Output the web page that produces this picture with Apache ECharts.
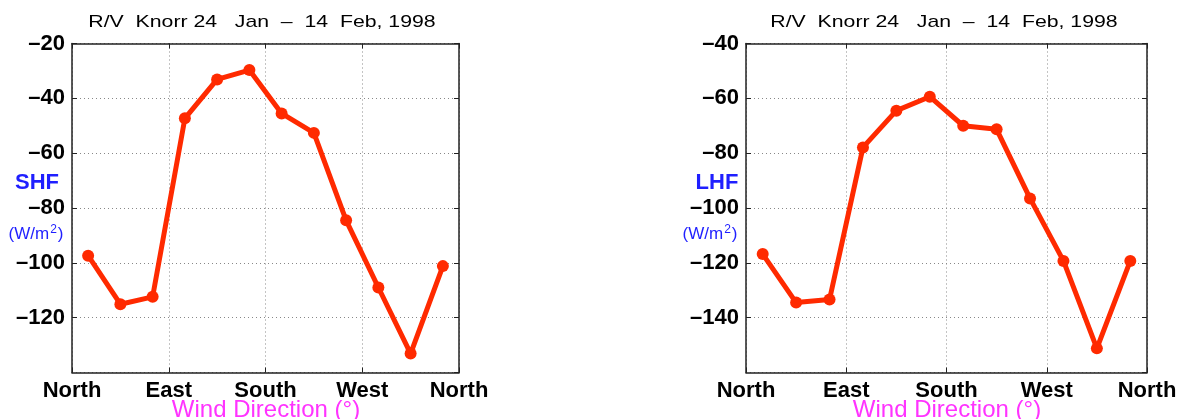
<!DOCTYPE html>
<html>
<head>
<meta charset="utf-8">
<script src="https://cdn.jsdelivr.net/npm/echarts@6/dist/echarts.min.js"></script>
<style>html,body{margin:0;padding:0;background:#fff}#c{width:1181px;height:419px}</style>
</head>
<body>
<div id="c"></div>
<script>
// Wind direction bin centres (degrees)
const directions = [15, 45, 75, 105, 135, 165, 195, 225, 255, 285, 315, 345];
// Sensible heat flux (W/m2)
const shf = [-97.4, -115.1, -112.4, -47.3, -33.1, -29.7, -45.5, -52.6, -84.5, -109, -133.1, -101.2];
// Latent heat flux (W/m2)
const lhf = [-116.8, -134.5, -133.4, -77.9, -64.5, -59.4, -70, -71.3, -96.5, -119.3, -151.2, -119.3];
// x tick labels at 0, 90, 180, 270, 360
const dirLabels = ['North', 'East', 'South', 'West', 'North'];
const titleText = 'R/V  Knorr 24   Jan  –  14  Feb, 1998';
const xTitle = 'Wind Direction (°)';

const red = '#ff2a00';
const blue = '#1f1fff';
const magenta = '#ff33ff';
const FONT = '"Liberation Sans", Arial, sans-serif';

const chart = echarts.init(document.getElementById('c'), null, {renderer: 'canvas'});

function pairs(vals) { return directions.map((d, i) => [d, vals[i]]); }

const panels = [
  {left: 72, width: 387, ymin: -140, ymax: -20, name: 'SHF', vals: shf, nameX: 37, unitX: 36, titleX: 262, xtX: 266},
  {left: 746, width: 401, ymin: -160, ymax: -40, name: 'LHF', vals: lhf, nameX: 717, unitX: 710, titleX: 944, xtX: 947}
];

const grid = [], xAxis = [], yAxis = [], series = [], graphic = [];
panels.forEach((p, i) => {
  grid.push({left: p.left, width: p.width, top: 43.5, height: 329, containLabel: false});
  const axLine = {show: true, onZero: false, lineStyle: {color: '#222', width: 1.5}};
  const tick = {show: true, inside: true, length: 5, lineStyle: {color: '#222', width: 1}};
  xAxis.push({
    type: 'value', gridIndex: i, min: 0, max: 360, interval: 90, position: 'bottom',
    axisLine: axLine, axisTick: tick,
    axisLabel: {
      margin: 7, color: '#000', fontFamily: FONT, fontWeight: 'bold', fontSize: 22,
      formatter: v => dirLabels[Math.round(v / 90)]
    },
    splitLine: {show: true, lineStyle: {color: '#888', type: [1, 3], width: 1}}
  });
  xAxis.push({
    type: 'value', gridIndex: i, min: 0, max: 360, interval: 90, position: 'top',
    axisLine: axLine, axisTick: tick,
    axisLabel: {show: false}, splitLine: {show: false}
  });
  yAxis.push({
    type: 'value', gridIndex: i, min: p.ymin, max: p.ymax, interval: 20, position: 'left',
    axisLine: axLine, axisTick: tick,
    axisLabel: {
      margin: 7, color: '#000', fontFamily: FONT, fontWeight: 'bold', fontSize: 22,
      showMinLabel: false,
      formatter: v => String(v).replace('-', '–')
    },
    splitLine: {show: true, lineStyle: {color: '#888', type: [1, 3], width: 1}}
  });
  yAxis.push({
    type: 'value', gridIndex: i, min: p.ymin, max: p.ymax, interval: 20, position: 'right',
    axisLine: axLine, axisTick: tick,
    axisLabel: {show: false}, splitLine: {show: false}
  });
  series.push({
    type: 'line', xAxisIndex: i * 2, yAxisIndex: i * 2, data: pairs(p.vals),
    symbol: 'circle', symbolSize: 12, showSymbol: true,
    lineStyle: {color: red, width: 5}, itemStyle: {color: red}, z: 5
  });
  graphic.push({
    type: 'text', x: p.titleX, y: 22, scaleX: 1.25,
    style: {text: titleText, font: '17px ' + FONT, fill: '#000', align: 'center', verticalAlign: 'middle'}
  });
  graphic.push({
    type: 'text', x: p.nameX, y: 183,
    style: {text: p.name, font: 'bold 22px ' + FONT, fill: blue, align: 'center', verticalAlign: 'middle'}
  });
  graphic.push({
    type: 'text', x: p.unitX, y: 234,
    style: {
      text: '(W/m{s|2})', font: '17px ' + FONT, fill: blue, align: 'center', verticalAlign: 'middle',
      rich: {s: {fontSize: 12, fontFamily: FONT, fill: blue, padding: [0, 1, 9, 1]}}
    }
  });
  graphic.push({
    type: 'text', x: p.xtX, y: 410,
    style: {text: xTitle, font: '24px ' + FONT, fill: magenta, align: 'center', verticalAlign: 'middle'}
  });
});

chart.setOption({
  animation: false,
  backgroundColor: '#fff',
  grid, xAxis, yAxis, series, graphic
});
</script>
</body>
</html>
